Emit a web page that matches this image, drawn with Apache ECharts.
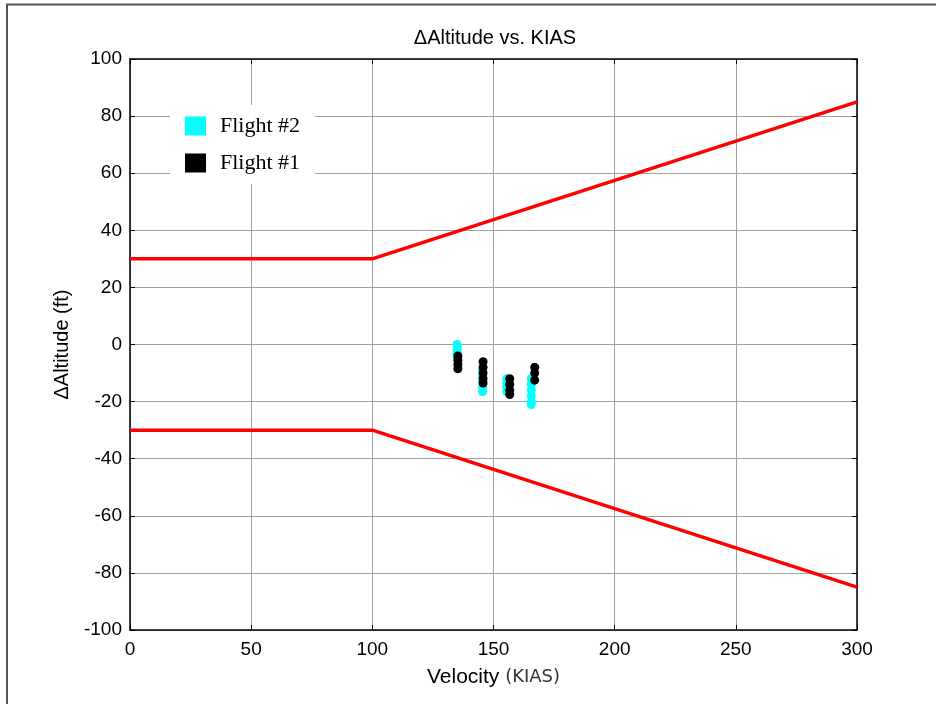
<!DOCTYPE html>
<html>
<head>
<meta charset="utf-8">
<script src="https://cdn.jsdelivr.net/npm/echarts@6/dist/echarts.min.js"></script>
<style>html,body{margin:0;padding:0;background:#fff;}#c{width:936px;height:704px;}</style>
</head>
<body>
<div id="c"></div>
<script>
// Limit lines (velocity KIAS, delta altitude ft)
const upperLimit = [[0, 30], [100, 30], [300, 85]];
const lowerLimit = [[0, -30], [100, -30], [300, -85]];

// Flight #2 (cyan) points
const flight2X = [135, 135, 135, 135, 135, 145.5, 145.5, 145.5, 145.5, 145.5, 155.5, 155.5, 155.5, 155.5, 165.6, 165.6, 165.6, 165.6, 165.6, 165.6];
const flight2Y = [0, -1, -2, -3, -4.5, -9, -11, -13, -15, -16.5, -12, -13.5, -15, -16.5, -12, -14, -16, -18, -20, -21];

// Flight #1 (black) points
const flight1X = [135.3, 135.3, 135.3, 135.3, 145.7, 145.7, 145.7, 145.7, 145.7, 156.7, 156.7, 156.7, 156.7, 167, 167, 167];
const flight1Y = [-4, -5.5, -7, -8.5, -6, -8, -10, -12, -13.5, -12, -14, -16, -17.5, -8, -10, -12.5];

const xTicks = [0, 50, 100, 150, 200, 250, 300];
const yTicks = [-100, -80, -60, -40, -20, 0, 20, 40, 60, 80, 100];

const f2 = flight2X.map((x, i) => [x, flight2Y[i]]);
const f1 = flight1X.map((x, i) => [x, flight1Y[i]]);

const chart = echarts.init(document.getElementById('c'), null, {renderer: 'canvas'});
const sans = 'Liberation Sans, Arial, sans-serif';
const gridLine = {show: true, lineStyle: {color: '#a0a0a0', width: 1}};
chart.setOption({
  backgroundColor: '#fff',
  animation: false,
  title: {
    text: 'ΔAltitude vs. KIAS',
    left: 490, top: 23, textAlign: 'center',
    textStyle: {fontFamily: sans, fontSize: 20, fontWeight: 'normal', color: '#000'}
  },
  graphic: [{
    type: 'polyline', silent: true,
    shape: {points: [[7, 710], [7, 4.5], [940, 4.5]]},
    style: {stroke: '#555', lineWidth: 2, fill: null}
  }],
  legend: {
    orient: 'vertical', left: 170, top: 105,
    data: ['Flight #2', 'Flight #1'],
    icon: 'rect', itemWidth: 21, itemHeight: 19, itemGap: 15,
    backgroundColor: '#fff', padding: [10, 15, 10, 15],
    textStyle: {fontFamily: 'Liberation Serif, Times New Roman, serif', fontSize: 22, color: '#000', padding: [0, 0, 0, 9]}
  },
  grid: {left: 130, right: 79, top: 59, bottom: 74, show: false},
  xAxis: [{
    type: 'value', min: 0, max: 300, interval: 50,
    name: '{a|Velocity }{b|(KIAS)}', nameLocation: 'middle', nameGap: 37,
    nameTextStyle: {rich: {
      a: {fontFamily: sans, fontSize: 21, color: '#000'},
      b: {fontFamily: 'DejaVu Sans, sans-serif', fontSize: 18, color: '#333'}
    }},
    axisLine: {show: true, onZero: false, lineStyle: {color: '#000', width: 1.5}},
    axisTick: {show: true, inside: true, length: 5, lineStyle: {color: '#000'}},
    axisLabel: {fontFamily: sans, fontSize: 19, color: '#000', margin: 10},
    splitLine: gridLine
  }, {
    type: 'value', min: 0, max: 300, interval: 50, position: 'top',
    axisLine: {show: true, onZero: false, lineStyle: {color: '#000', width: 1.5}},
    axisTick: {show: true, inside: true, length: 5, lineStyle: {color: '#000'}},
    axisLabel: {show: false}, splitLine: {show: false}
  }],
  yAxis: [{
    type: 'value', min: -100, max: 100, interval: 20,
    name: 'ΔAltitude (ft)', nameLocation: 'middle', nameGap: 58,
    nameTextStyle: {fontFamily: sans, fontSize: 20, color: '#000'},
    axisLine: {show: true, onZero: false, lineStyle: {color: '#000', width: 1.5}},
    axisTick: {show: true, inside: true, length: 5, lineStyle: {color: '#000'}},
    axisLabel: {fontFamily: sans, fontSize: 19, color: '#000', margin: 8},
    splitLine: gridLine
  }, {
    type: 'value', min: -100, max: 100, interval: 20, position: 'right',
    axisLine: {show: true, onZero: false, lineStyle: {color: '#000', width: 1.5}},
    axisTick: {show: true, inside: true, length: 5, lineStyle: {color: '#000'}},
    axisLabel: {show: false}, splitLine: {show: false}
  }],
  series: [
    {type: 'line', data: upperLimit, symbol: 'none', lineStyle: {color: '#ff0000', width: 3.5}, silent: true, z: 3},
    {type: 'line', data: lowerLimit, symbol: 'none', lineStyle: {color: '#ff0000', width: 3.5}, silent: true, z: 3},
    {name: 'Flight #2', type: 'scatter', data: f2, symbol: 'circle', symbolSize: 9, itemStyle: {color: '#00ffff', opacity: 1}, z: 4},
    {name: 'Flight #1', type: 'scatter', data: f1, symbol: 'circle', symbolSize: 9, itemStyle: {color: '#000000', opacity: 1}, z: 5}
  ]
});
</script>
</body>
</html>
